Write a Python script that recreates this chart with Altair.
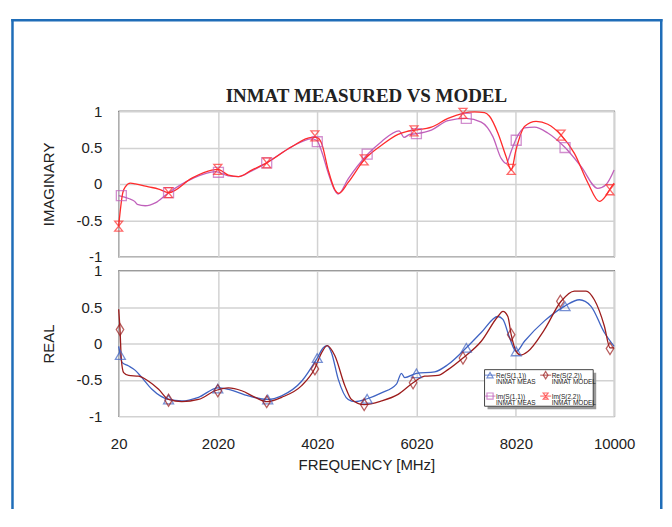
import altair as alt
import pandas as pd

TITLE = "INMAT MEASURED VS MODEL"
X_TITLE = "FREQUENCY [MHz]"
TOP_TITLE = "IMAGINARY"
BOTTOM_TITLE = "REAL"
FREQ_TICKS = [20, 2020, 4020, 6020, 8020, 10000]
Y_TICKS = [-1, -0.5, 0, 0.5, 1]

SERIES = ["Re(S(1,1))", "Re(S(2,2))", "Im(S(1,1))", "Im(S(2,2))"]
SUBLABELS = ["INMAT MEAS", "INMAT MODEL", "INMAT MEAS", "INMAT MODEL"]
LEG_COL = [0, 1, 0, 1]
LEG_ROW = [0, 0, 1, 1]
COLORS = ["#3f63c3", "#9c1c1c", "#c060bb", "#ff2b2b"]
SHAPES = ["triangle-up", "M0,-1.2L0.75,0L0,1.2L-0.75,0Z", "square",
          "M-0.8,-1H0.8L-0.8,1H0.8Z"]
FRAME_BLUE = "#1f6db8"

# ---- Im(S(2,2)) model (red) ----
im22_f = [20, 100, 154, 255, 355, 623, 824, 1025, 1494, 1896, 2017, 2231, 2432, 2700,
          3002, 3504, 3906, 4007, 4107, 4241, 4375, 4455, 4643, 4965, 5313, 5648, 5815,
          5983, 6318, 6653, 6955, 7189, 7390, 7490, 7658, 7826, 7926, 8027, 8194, 8429,
          8663, 8931, 9199, 9467, 9702, 9836, 9916, 10000]
im22_v = [-0.58, -0.13, -0.04, 0.01, 0.0, -0.04, -0.07, -0.12, 0.08, 0.19, 0.20, 0.12,
          0.10, 0.19, 0.29, 0.51, 0.64, 0.64, 0.56, 0.19, -0.08, -0.13, 0.02, 0.33, 0.53,
          0.68, 0.72, 0.74, 0.78, 0.90, 0.97, 0.99, 0.98, 0.93, 0.70, 0.37, 0.19, 0.48,
          0.79, 0.86, 0.82, 0.67, 0.42, 0.02, -0.24, -0.16, -0.07, 0.01]
im22_mf = [20, 1025, 2017, 3002, 3973, 4965, 5970, 6955, 7926, 8931, 9916]
im22_mv = [-0.58, -0.12, 0.20, 0.29, 0.66, 0.33, 0.73, 0.97, 0.20, 0.67, -0.08]

# ---- Im(S(1,1)) measured (magenta) ----
im11_f = [20, 221, 342, 395, 556, 757, 1025, 1494, 1963, 2231, 2432, 2700, 3002, 3504,
          3906, 4007, 4107, 4241, 4375, 4442, 4643, 5025, 5313, 5668, 5768, 5882, 6017,
          6318, 6653, 7022, 7323, 7557, 7725, 7826, 7926, 8027, 8194, 8395, 8663, 9011,
          9333, 9668, 9836, 10000]
im11_v = [-0.16, -0.20, -0.24, -0.28, -0.30, -0.26, -0.12, 0.07, 0.17, 0.11, 0.10, 0.18,
          0.29, 0.51, 0.62, 0.60, 0.45, 0.15, -0.09, -0.14, 0.07, 0.40, 0.58, 0.73, 0.64,
          0.68, 0.69, 0.74, 0.87, 0.90, 0.85, 0.65, 0.35, 0.28, 0.45, 0.62, 0.77, 0.78,
          0.70, 0.50, 0.24, -0.06, -0.01, 0.19]
im11_mf = [74, 1025, 2030, 3002, 4020, 5025, 6017, 7022, 8027, 9011]
im11_mv = [-0.16, -0.12, 0.16, 0.29, 0.58, 0.41, 0.69, 0.90, 0.60, 0.50]

# ---- Re(S(2,2)) model (dark red) ----
re22_f = [20, 47, 74, 120, 221, 422, 623, 824, 1025, 1293, 1628, 1963, 2231, 2499, 2767,
          3002, 3303, 3705, 3973, 4107, 4221, 4375, 4576, 4710, 4965, 5313, 5648, 5950,
          6184, 6452, 6653, 6955, 7323, 7658, 7759, 7859, 7926, 8027, 8114, 8261, 8596,
          8931, 9199, 9433, 9601, 9802, 9916, 10000]
re22_v = [0.47, 0.19, -0.22, -0.40, -0.44, -0.45, -0.52, -0.63, -0.77, -0.80, -0.77,
          -0.65, -0.61, -0.65, -0.74, -0.80, -0.74, -0.58, -0.34, -0.13, -0.03, -0.17,
          -0.58, -0.77, -0.84, -0.79, -0.70, -0.54, -0.45, -0.44, -0.36, -0.20, 0.03,
          0.37, 0.44, 0.37, 0.12, -0.11, -0.16, -0.11, 0.19, 0.58, 0.72, 0.72, 0.60,
          0.24, -0.06, -0.06]
re22_mf = [47, 1025, 2017, 3002, 3973, 4965, 5950, 6955, 7926, 8917, 9916]
re22_mv = [0.19, -0.78, -0.65, -0.80, -0.35, -0.84, -0.54, -0.20, 0.12, 0.58, -0.07]

# ---- Re(S(1,1)) measured (blue) ----
re11_f = [20, 54, 87, 221, 355, 489, 690, 1025, 1293, 1628, 2017, 2231, 2633, 3022, 3303,
          3705, 4020, 4141, 4221, 4308, 4442, 4643, 4777, 5025, 5313, 5615, 5715, 5782,
          6017, 6385, 6653, 7022, 7323, 7658, 7759, 7893, 8027, 8194, 8596, 8998, 9300,
          9534, 9802, 10000]
re11_v = [-0.04, -0.16, -0.26, -0.31, -0.37, -0.47, -0.63, -0.77, -0.79, -0.74, -0.61,
          -0.63, -0.72, -0.77, -0.72, -0.52, -0.20, -0.06, -0.03, -0.13, -0.49, -0.77,
          -0.80, -0.76, -0.68, -0.56, -0.41, -0.47, -0.41, -0.39, -0.29, -0.06, 0.15,
          0.37, 0.33, 0.08, -0.11, 0.03, 0.31, 0.51, 0.60, 0.51, 0.15, -0.04]
re11_mf = [54, 1025, 2017, 3022, 4020, 5025, 6017, 7022, 8027, 9011]
re11_mv = [-0.16, -0.77, -0.62, -0.77, -0.20, -0.76, -0.41, -0.06, -0.11, 0.51]


def table(name, f, v):
    return pd.DataFrame({"f": f, "v": v, "s": name})


top_lines = pd.concat([table(SERIES[2], im11_f, im11_v), table(SERIES[3], im22_f, im22_v)])
top_marks = pd.concat([table(SERIES[2], im11_mf, im11_mv), table(SERIES[3], im22_mf, im22_mv)])
bot_lines = pd.concat([table(SERIES[0], re11_f, re11_v), table(SERIES[1], re22_f, re22_v)])
bot_marks = pd.concat([table(SERIES[0], re11_mf, re11_mv), table(SERIES[1], re22_mf, re22_mv)])
legend_df = pd.DataFrame({"s": SERIES, "sub": SUBLABELS, "col": LEG_COL, "row": LEG_ROW})

color_scale = alt.Scale(domain=SERIES, range=COLORS)
shape_scale = alt.Scale(domain=SERIES, range=SHAPES)
x_scale = alt.Scale(domain=[20, 10000], nice=False, zero=False)
y_scale = alt.Scale(domain=[-1, 1], nice=False, zero=False)

W, H = 497, 146


def panel(lines, marks, ytitle, show_x):
    xaxis = alt.Axis(values=FREQ_TICKS, labelExpr="datum.value + ''", labelFlush=False,
                     labelOverlap=False, labelPadding=20, titlePadding=6,
                     labels=show_x, title=X_TITLE if show_x else None)
    yaxis = alt.Axis(values=Y_TICKS, labelExpr="datum.value + ''", labelFlush=False,
                     labelOverlap=False, labelPadding=17, titlePadding=20, title=ytitle)
    x = alt.X("f:Q", scale=x_scale, axis=xaxis)
    y = alt.Y("v:Q", scale=y_scale, axis=yaxis)
    ln = alt.Chart(lines).mark_line(interpolate="monotone", strokeWidth=1.3).encode(
        x=x, y=y, color=alt.Color("s:N", scale=color_scale, legend=None), detail="s:N")
    pt = alt.Chart(marks).mark_point(filled=False, size=100, strokeWidth=1.3).encode(
        x=x, y=y,
        color=alt.Color("s:N", scale=color_scale, legend=None),
        shape=alt.Shape("s:N", scale=shape_scale, legend=None))
    return ln, pt


one = pd.DataFrame({"k": [0]})

# ---------- top panel ----------
t_ln, t_pt = panel(top_lines, top_marks, TOP_TITLE, False)
top = alt.layer(t_ln, t_pt).properties(
    width=W, height=H,
    title=alt.TitleParams(TITLE, font="Liberation Serif", fontSize=19, fontWeight="bold",
                          color="#222", anchor="middle", frame="group",
                          baseline="alphabetic", offset=-16.5))

# ---------- bottom panel ----------
b_ln, b_pt = panel(bot_lines, bot_marks, BOTTOM_TITLE, True)


def frame_bar(x1, x2, y1, y2):
    return alt.Chart(one).mark_rect(color=FRAME_BLUE).encode(
        x=alt.value(x1), x2=alt.value(x2), y=alt.value(y1), y2=alt.value(y2))


frame_top = frame_bar(-107.75, 545.5, -252.45, -249.95)
frame_left = frame_bar(-107.75, -105.25, -252.45, 239)
frame_right = frame_bar(543.0, 545.5, -252.45, 239)
bottom_data = alt.layer(b_ln, b_pt, frame_top, frame_left, frame_right)

# legend (drawn inside the lower panel)
lx = alt.X("col:Q", scale=alt.Scale(domain=[0, 1], range=[372.5, 428.3]), axis=None)
ly = alt.Y("row:Q", scale=alt.Scale(domain=[0, 1], range=[104.8, 125.8]), axis=None)
lcolor = alt.Color("s:N", scale=color_scale, legend=None)
shadow = alt.Chart(one).mark_rect(color="#9a9a9a").encode(
    x=alt.value(370), x2=alt.value(479), y=alt.value(102.3), y2=alt.value(139))
box = alt.Chart(one).mark_rect(fill="white", stroke="#444", strokeWidth=1).encode(
    x=alt.value(367), x2=alt.value(476), y=alt.value(99.3), y2=alt.value(136))
leg_line = alt.Chart(legend_df).mark_tick(orient="horizontal", size=11, thickness=1.1).encode(
    x=lx, y=ly, color=lcolor)
leg_sym = alt.Chart(legend_df).mark_point(filled=False, size=38, strokeWidth=1.2).encode(
    x=lx, y=ly, color=lcolor, shape=alt.Shape("s:N", scale=shape_scale, legend=None))
leg_t1 = alt.Chart(legend_df).mark_text(
    align="left", baseline="middle", dx=6, dy=0.5, fontSize=6.5, color="#222",
    font="Liberation Sans Narrow, Liberation Sans").encode(x=lx, y=ly, text="s:N")
leg_t2 = alt.Chart(legend_df).mark_text(
    align="left", baseline="middle", dx=6, dy=7, fontSize=6.5, color="#222",
    font="Liberation Sans Narrow, Liberation Sans").encode(x=lx, y=ly, text="sub:N")
legend_layer = alt.layer(shadow, box, leg_line, leg_sym, leg_t1, leg_t2)

bottom = alt.layer(bottom_data, legend_layer).resolve_scale(
    x="independent", y="independent").properties(width=W, height=H)

chart = alt.vconcat(top, bottom, spacing=14, bounds="flush").resolve_scale(
    color="shared", shape="shared", x="independent", y="independent"
).properties(
    padding={"left": 2.0, "top": 8.7, "right": 0, "bottom": 0},
    autosize=alt.AutoSizeParams(type="pad"),
).configure_view(
    stroke="#333", strokeWidth=1.2
).configure_axis(
    labelFont="Liberation Sans", labelFontSize=15, labelColor="#222",
    titleFont="Liberation Sans", titleFontSize=15, titleFontWeight="normal",
    titleColor="#222", gridColor="#d2d2d2", gridWidth=1.5, domain=False, ticks=False,
)

chart.save("out.html", embed_options={"renderer": "svg", "actions": False})
